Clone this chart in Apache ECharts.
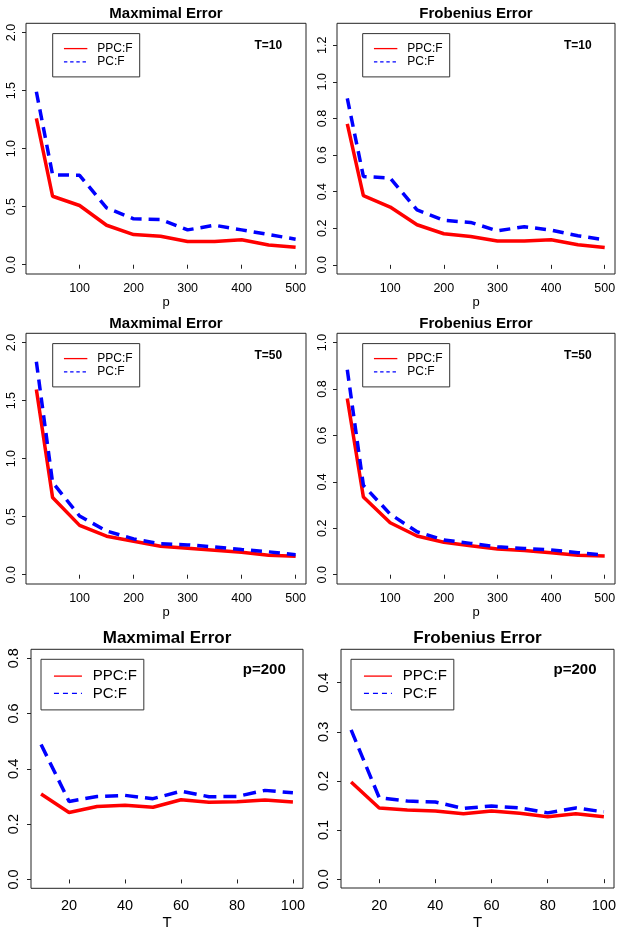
<!DOCTYPE html>
<html>
<head>
<meta charset="utf-8">
<script src="https://cdn.jsdelivr.net/npm/echarts@6/dist/echarts.min.js"></script>
<style>
html,body{margin:0;padding:0;background:#fff;}
#chart{width:624px;height:937px;}
</style>
</head>
<body>
<div id="chart"></div>
<script>
// ---- data ----
const pVals = [20, 50, 100, 150, 200, 250, 300, 350, 400, 450, 500];
const tVals = [10, 20, 30, 40, 50, 60, 70, 80, 90, 100];

const maxT10_PPC = [1.26, 0.59, 0.51, 0.34, 0.26, 0.245, 0.20, 0.20, 0.215, 0.17, 0.15];
const maxT10_PC  = [1.49, 0.775, 0.77, 0.49, 0.395, 0.39, 0.30, 0.34, 0.30, 0.26, 0.22];
const frobT10_PPC = [0.77, 0.378, 0.316, 0.219, 0.17, 0.155, 0.13, 0.13, 0.137, 0.11, 0.095];
const frobT10_PC  = [0.91, 0.483, 0.474, 0.30, 0.243, 0.232, 0.186, 0.208, 0.19, 0.159, 0.137];

const maxT50_PPC = [1.595, 0.665, 0.425, 0.332, 0.289, 0.246, 0.228, 0.211, 0.194, 0.168, 0.159];
const maxT50_PC  = [1.835, 0.795, 0.506, 0.376, 0.309, 0.266, 0.257, 0.24, 0.217, 0.197, 0.173];
const frobT50_PPC = [0.759, 0.335, 0.224, 0.167, 0.14, 0.125, 0.111, 0.104, 0.095, 0.084, 0.081];
const frobT50_PC  = [0.883, 0.385, 0.261, 0.185, 0.15, 0.135, 0.12, 0.113, 0.107, 0.095, 0.085];

const maxP200_PPC = [0.309, 0.242, 0.264, 0.268, 0.261, 0.288, 0.279, 0.281, 0.287, 0.280];
const maxP200_PC  = [0.488, 0.282, 0.300, 0.304, 0.292, 0.319, 0.299, 0.300, 0.322, 0.313];
const frobP200_PPC = [0.198, 0.145, 0.141, 0.139, 0.133, 0.139, 0.134, 0.127, 0.133, 0.127];
const frobP200_PC  = [0.304, 0.166, 0.159, 0.157, 0.144, 0.149, 0.145, 0.135, 0.145, 0.137];

const pTicks = [100, 200, 300, 400, 500];
const tTicks = [20, 40, 60, 80, 100];
const yTicksMax = [0, 0.5, 1.0, 1.5, 2.0];
const yTicksFrobT10 = [0, 0.2, 0.4, 0.6, 0.8, 1.0, 1.2];
const yTicksFrobT50 = [0, 0.2, 0.4, 0.6, 0.8, 1.0];
const yTicksMaxP200 = [0, 0.2, 0.4, 0.6, 0.8];
const yTicksFrobP200 = [0, 0.1, 0.2, 0.3, 0.4];

const titles = ['Maxmimal Error', 'Frobenius Error', 'Maxmimal Error', 'Frobenius Error', 'Maxmimal Error', 'Frobenius Error'];
const notes = ['T=10', 'T=10', 'T=50', 'T=50', 'p=200', 'p=200'];
const xNames = ['p', 'p', 'p', 'p', 'T', 'T'];
const seriesNames = ['PPC:F', 'PC:F'];

// ---- layout (pixels) ----
const FONT = '"Liberation Sans", Arial, sans-serif';
const panels = [
  {grid: {left: 26, top: 23.3, width: 280, height: 250.7}, x: pVals, xr: [0.8, 519.2], xt: pTicks, yr: [-0.08, 2.08], yt: yTicksMax, red: maxT10_PPC, blue: maxT10_PC, big: false, leg: [52.7, 33.6]},
  {grid: {left: 337, top: 23.3, width: 278, height: 250.7}, x: pVals, xr: [0.8, 519.2], xt: pTicks, yr: [-0.05, 1.32], yt: yTicksFrobT10, red: frobT10_PPC, blue: frobT10_PC, big: false, leg: [362.7, 33.6]},
  {grid: {left: 26, top: 333.3, width: 280, height: 250.7}, x: pVals, xr: [0.8, 519.2], xt: pTicks, yr: [-0.08, 2.08], yt: yTicksMax, red: maxT50_PPC, blue: maxT50_PC, big: false, leg: [52.7, 343.6]},
  {grid: {left: 337, top: 333.3, width: 278, height: 250.7}, x: pVals, xr: [0.8, 519.2], xt: pTicks, yr: [-0.04, 1.04], yt: yTicksFrobT50, red: frobT50_PPC, blue: frobT50_PC, big: false, leg: [362.7, 343.6]},
  {grid: {left: 31, top: 649.3, width: 272, height: 239}, x: tVals, xr: [6.4, 103.6], xt: tTicks, yr: [-0.032, 0.832], yt: yTicksMaxP200, red: maxP200_PPC, blue: maxP200_PC, big: true, leg: [41, 659.3]},
  {grid: {left: 341, top: 649.3, width: 273, height: 238.7}, x: tVals, xr: [6.4, 103.6], xt: tTicks, yr: [-0.018, 0.468], yt: yTicksFrobP200, red: frobP200_PPC, blue: frobP200_PC, big: true, leg: [351, 659.3]}
];

const grids = [], xAxes = [], yAxes = [], series = [], legends = [], graphics = [];

panels.forEach((pn, i) => {
  const tickFont = pn.big ? 14.5 : 12.5;
  grids.push(Object.assign({show: true, borderColor: '#222', borderWidth: 1, backgroundColor: 'transparent', containLabel: false}, pn.grid));
  xAxes.push({
    type: 'value', gridIndex: i, min: pn.xr[0], max: pn.xr[1],
    name: xNames[i], nameLocation: 'middle', nameGap: pn.big ? 27.5 : 21.5,
    nameTextStyle: {fontFamily: FONT, fontSize: pn.big ? 15 : 13, color: '#000'},
    axisLine: {show: false}, splitLine: {show: false},
    axisTick: {show: true, inside: false, length: 4, lineStyle: {color: '#222'}, customValues: pn.xt},
    axisLabel: {show: true, margin: pn.big ? 10.5 : 8.5, fontFamily: FONT, fontSize: tickFont, color: '#000', customValues: pn.xt, formatter: v => String(v)}
  });
  yAxes.push({
    type: 'value', gridIndex: i, min: pn.yr[0], max: pn.yr[1],
    axisLine: {show: false}, splitLine: {show: false},
    axisTick: {show: true, inside: false, length: 4, lineStyle: {color: '#222'}, customValues: pn.yt},
    axisLabel: {show: true, rotate: 90, margin: pn.big ? 9.5 : 7.5, fontFamily: FONT, fontSize: tickFont, color: '#000', customValues: pn.yt, formatter: v => v.toFixed(1)}
  });
  series.push({
    name: seriesNames[0], type: 'line', xAxisIndex: i, yAxisIndex: i, symbol: 'none',
    data: pn.x.map((x, k) => [x, pn.red[k]]),
    lineStyle: {color: '#ff0000', width: 3.5}, itemStyle: {color: '#ff0000'}, z: 2
  });
  series.push({
    name: seriesNames[1], type: 'line', xAxisIndex: i, yAxisIndex: i, symbol: 'none',
    data: pn.x.map((x, k) => [x, pn.blue[k]]),
    lineStyle: {color: '#0000ff', width: 3.5, type: pn.big ? [13, 7] : [11, 7]}, itemStyle: {color: '#0000ff'}, z: 3
  });
  const lf = pn.big ? 15 : 12;
  legends.push({
    show: true, orient: 'vertical', left: pn.leg[0], top: pn.leg[1],
    padding: pn.big ? [9.3, 7, 9, 12.3] : [9, 7, 9, 10.6],
    itemWidth: pn.big ? 28 : 23.4, itemHeight: pn.big ? 16 : 12, itemGap: pn.big ? 2.3 : 1.3,
    borderColor: '#333', borderWidth: 1, backgroundColor: '#fff',
    selectedMode: false,
    textStyle: {fontFamily: FONT, fontSize: lf, color: '#000', padding: [0, 0, 0, pn.big ? 5.7 : 5]},
    data: [
      {name: seriesNames[0], itemStyle: {color: 'rgba(0,0,0,0)', borderWidth: 0, opacity: 0}, lineStyle: {color: '#ff0000', width: 1.3, type: 'solid'}},
      {name: seriesNames[1], itemStyle: {color: 'rgba(0,0,0,0)', borderWidth: 0, opacity: 0}, lineStyle: {color: '#0000ff', width: 1.3, type: pn.big ? [5, 4] : [3.4, 2.8]}}
    ]
  });
  const cx = pn.grid.left + pn.grid.width / 2;
  graphics.push({
    type: 'text', x: cx, y: pn.big ? 638.3 : pn.grid.top - 9.5,
    style: {text: titles[i], textAlign: 'center', textVerticalAlign: 'middle', font: 'bold ' + (pn.big ? 17 : 15) + 'px ' + FONT, fill: '#000'}
  });
});

const noteX = [268.3, 577.8, 268.3, 577.8, 264.3, 575];
const noteY = [45.7, 45.7, 355.7, 355.7, 669.5, 669.5];
notes.forEach((t, i) => {
  graphics.push({type: 'text', x: noteX[i], y: noteY[i],
    style: {text: t, textAlign: 'center', textVerticalAlign: 'middle', font: 'bold ' + (i >= 4 ? 15 : 12) + 'px ' + FONT, fill: '#000'}});
});

const chart = echarts.init(document.getElementById('chart'), null, {renderer: 'canvas'});
chart.setOption({
  animation: false,
  backgroundColor: '#fff',
  grid: grids, xAxis: xAxes, yAxis: yAxes, series: series, legend: legends,
  graphic: graphics
});
</script>
</body>
</html>
